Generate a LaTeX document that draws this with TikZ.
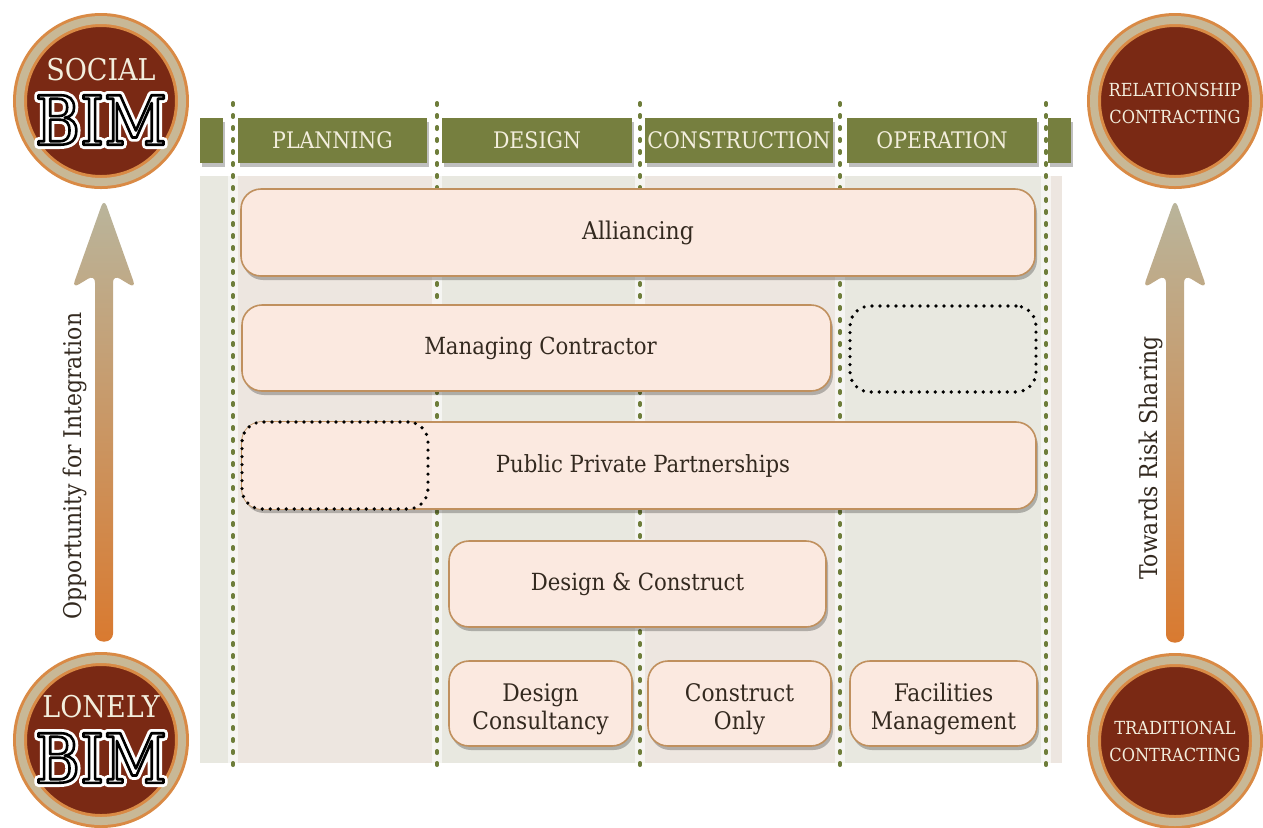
\documentclass[tikz,border=0pt]{standalone}
\usepackage{fontspec}
\setmainfont{DejaVu Serif Condensed}
\usepackage{tikz}
\usetikzlibrary{calc}
\usetikzlibrary{shadows}
\usepackage{xcolor}
\definecolor{phasegreen}{HTML}{767F3F}
\definecolor{dotgreen}{HTML}{6E7D3A}
\definecolor{dealfill}{HTML}{FBE9E0}
\definecolor{dealline}{HTML}{C0905E}
\definecolor{colgreen}{HTML}{E8E8E0}
\definecolor{colpink}{HTML}{EDE6E0}
\definecolor{badgered}{HTML}{7A2914}
\definecolor{badgering}{HTML}{C8B896}
\definecolor{badgeorange}{HTML}{D98A45}
\definecolor{textdark}{HTML}{33291F}
\definecolor{headtext}{HTML}{F3EEDD}
\definecolor{arrowtop}{HTML}{B9B59C}
\definecolor{arrowmid}{HTML}{C9A27A}
\definecolor{arrowbot}{HTML}{D97A30}

\tikzset{
  softshadow/.style={drop shadow={shadow xshift=1pt, shadow yshift=-2pt, opacity=.25, fill=black}},
  phase/.style={fill=phasegreen, text=headtext, minimum height=22.5pt, inner sep=0pt,
    font=\fontsize{11.4}{13}\selectfont, softshadow},
  phaseline/.style={dotgreen, line width=2pt, line cap=round, dash pattern=on 1pt off 5pt},
  deal/.style={fill=dealfill, draw=dealline, line width=.8pt, rounded corners=10pt,
    text=textdark, align=center, inner sep=0pt, font=\fontsize{11.8}{14}\selectfont, softshadow},
  smalldeal/.style={deal, minimum height=42.5pt, font=\fontsize{12.1}{14}\selectfont},
  blank/.style={draw=black, line width=1.8pt, line cap=round, dash pattern=on 0pt off 4pt,
    rounded corners=10pt, inner sep=0pt},
  badge/.style={circle, fill=badgered, draw=badgeorange, double=badgering, double distance=4pt,
    line width=1.5pt, minimum size=81pt, inner sep=0pt},
  badgetxt/.style={text=headtext, align=center, inner sep=0pt},
  bimfont/.style={inner sep=0pt, text=white, font=\fontsize{34}{34}\selectfont},
  sidelabel/.style={text=textdark, rotate=90, inner sep=0pt, font=\fontsize{12.2}{14}\selectfont},
  arrowshade/.style={top color=arrowtop, middle color=arrowmid, bottom color=arrowbot, rounded corners=4pt}
}

% BIM en lettres detourees : halo blanc, puis contour noir
\newcommand{\halo}[1]{\special{pdf:literal direct 1 Tr 4.2 w 1 j}#1\special{pdf:literal direct 0 Tr}}
\newcommand{\outlined}[1]{\special{pdf:literal direct 2 Tr 1.3 w 1 j 0 G}#1\special{pdf:literal direct 0 Tr}}
\newcommand{\lift}{\rule{0pt}{15pt}}

% grosse fleche degradee
\newcommand{\fatarrow}[2]{%
  \shade[arrowshade] (#1) -- ($(#1)+(32,90)$) -- ($(#1)+(9,76)$) -- ($(#2)+(9,0)$)
    -- ($(#2)+(-9,0)$) -- ($(#1)+(-9,76)$) -- ($(#1)+(-32,90)$) -- cycle;}

\begin{document}
\begin{tikzpicture}[x=0.5pt,y=-0.5pt]
\useasboundingbox (0,0) rectangle (1263,827);

% fond des colonnes
\foreach \xa/\xb/\c in {200/233/colgreen, 233/437/colpink, 437/640/colgreen,
    640/840/colpink, 840/1046/colgreen, 1046/1062/colpink}
  \fill[\c] (\xa,176) rectangle (\xb,763);

% pointilles
\foreach \x in {233,437,640,840,1046} {
  \draw[white, opacity=.6, line width=5pt] (\x,103) -- (\x,773);
  \draw[phaseline] (\x,103) -- (\x,773);
}

% phases
\node[phase, minimum width=11.5pt] (stubleft) at (211.5,140.5) {};
\node[phase, minimum width=94.5pt] (planning) at (332.5,140.5) {PLANNING};
\node[phase, minimum width=95pt] (design) at (537,140.5) {DESIGN};
\node[phase, minimum width=94pt] (construction) at (739,140.5) {CONSTRUCTION};
\node[phase, minimum width=95pt] (operation) at (942,140.5) {OPERATION};
\node[phase, minimum width=11.5pt] (stubright) at (1059.5,140.5) {};

% contrats
\node[deal, minimum width=397pt, minimum height=43.5pt, font=\fontsize{12.2}{14}\selectfont] (alliancing) at (638,232.5) {Alliancing};
\node[deal, minimum width=294.5pt, minimum height=43pt] (managing) at (536.5,348) {\hspace*{4pt}Managing Contractor};
\node[blank, minimum width=93pt, minimum height=43pt] (opsgap) at (943,349) {};
\node[deal, minimum width=397pt, minimum height=43.5pt] (ppp) at (639,465.5) {\hspace*{4pt}Public Private Partnerships};
\node[blank, fill=dealfill, minimum width=93pt, minimum height=43.5pt] (planninggap) at (335,465.5) {};
\node[deal, minimum width=188.5pt, minimum height=43pt] (dandc) at (637.5,584) {Design \& Construct};
\node[smalldeal, minimum width=91.5pt] (consultancy) at (540.5,703.5) {\lift Design\\Consultancy};
\node[smalldeal, minimum width=91.5pt] (constructonly) at (739.5,703.5) {\lift Construct\\Only};
\node[smalldeal, minimum width=93.5pt] (facilities) at (943.5,703.5) {\lift Facilities\\Management};

% badges
\node[badge] (socialbim) at (101,101) {};
\node[badge] (lonelybim) at (101,740) {};
\node[badge] (relcon) at (1175,101) {};
\node[badge] (tradcon) at (1175,741) {};
\node[badgetxt, font=\fontsize{15}{15}\selectfont] (socialword) at ($(socialbim)+(0,-31)$) {SOCIAL};
\node[bimfont] at ($(socialbim)+(0,19)$) {\halo{BIM}};
\node[bimfont] (socialbimword) at ($(socialbim)+(0,19)$) {\outlined{BIM}};
\node[badgetxt, font=\fontsize{15}{15}\selectfont] (lonelyword) at ($(lonelybim)+(0,-33)$) {LONELY};
\node[bimfont] at ($(lonelybim)+(0,18)$) {\halo{BIM}};
\node[bimfont] (lonelybimword) at ($(lonelybim)+(0,18)$) {\outlined{BIM}};
\node[badgetxt, font=\fontsize{9}{13.5}\selectfont] (relword) at ($(relcon)+(0,2)$) {RELATIONSHIP\\CONTRACTING};
\node[badgetxt, font=\fontsize{9}{13.5}\selectfont] (tradword) at (tradcon) {TRADITIONAL\\CONTRACTING};

% fleches
\coordinate (inttip) at ($(socialbim.south)+(3,15)$);
\coordinate (intbase) at ($(lonelybim.north)+(3,-16)$);
\fatarrow{inttip}{intbase}
\coordinate (risktip) at ($(relcon.south)+(0,15)$);
\coordinate (riskbase) at ($(tradcon.north)+(0,-16)$);
\fatarrow{risktip}{riskbase}
\node[sidelabel] (integration) at (75,466) {Opportunity for Integration};
\node[sidelabel] (risksharing) at (1151,458) {Towards Risk Sharing};
\end{tikzpicture}
\end{document}
